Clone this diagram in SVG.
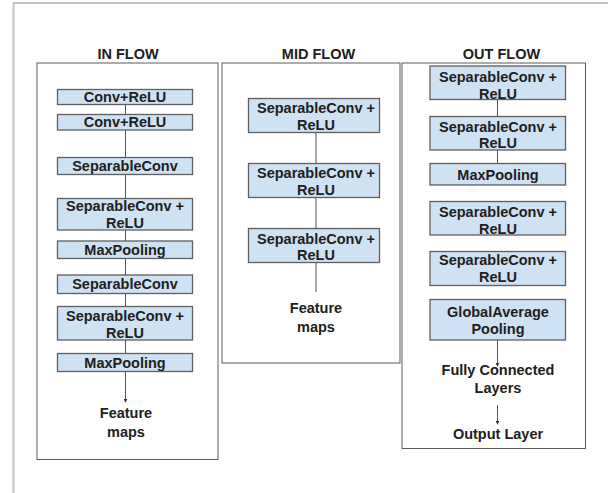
<svg xmlns="http://www.w3.org/2000/svg" width="608" height="493" viewBox="0 0 608 493">
<defs>
<style>
.frame{fill:none;stroke:#c4c4c4;stroke-width:2}
.panel{fill:#fff;stroke:#5a5a5a;stroke-width:1}
.box{fill:#cfe2f3;stroke:#5f5f5f;stroke-width:1.3}
.t{font-family:"Liberation Sans",Arial,sans-serif;font-weight:bold;font-size:14.5px;fill:#202020;text-anchor:middle}
.c{stroke:#555;stroke-width:1;fill:none}
</style>
<marker id="ah" viewBox="0 0 6 6" refX="5" refY="3" markerWidth="4" markerHeight="4" orient="auto" markerUnits="userSpaceOnUse">
<path d="M0,0 L6,3 L0,6 z" fill="#333"/>
</marker>
</defs>
<rect width="608" height="493" fill="#fff"/>
<path class="frame" d="M13.5,493 V3 H608"/>

<g id="panels">
<g id="in-flow"><rect class="panel" x="37" y="63" width="181" height="396.5"/><text class="t" x="128" y="59">IN FLOW</text></g>
<g id="mid-flow"><rect class="panel" x="222" y="63" width="178" height="300"/><text class="t" x="318.5" y="59">MID FLOW</text></g>
<g id="out-flow"><rect class="panel" x="402" y="63" width="183.5" height="385.5"/><text class="t" x="501.5" y="59">OUT FLOW</text></g>
</g>

<g id="connectors">
<line class="c" x1="125.5" y1="104.5" x2="125.5" y2="114.5"/>
<line class="c" x1="125.5" y1="130" x2="125.5" y2="157.5"/>
<line class="c" x1="125.5" y1="174.5" x2="125.5" y2="198.5"/>
<line class="c" x1="125.5" y1="230" x2="125.5" y2="241"/>
<line class="c" x1="125.5" y1="258.5" x2="125.5" y2="275"/>
<line class="c" x1="125.5" y1="293.5" x2="125.5" y2="306.5"/>
<line class="c" x1="125.5" y1="340" x2="125.5" y2="353.5"/>
<line class="c" x1="125.5" y1="371.5" x2="125.5" y2="402" marker-end="url(#ah)"/>
<line class="c" x1="316" y1="132.5" x2="316" y2="163.5"/>
<line class="c" x1="316" y1="197.5" x2="316" y2="228.5"/>
<line class="c" x1="316" y1="262.5" x2="316" y2="292"/>
<line class="c" x1="497.5" y1="99.5" x2="497.5" y2="116.5"/>
<line class="c" x1="497.5" y1="150" x2="497.5" y2="163.5"/>
<line class="c" x1="497.5" y1="340" x2="497.5" y2="366" marker-end="url(#ah)"/>
<line class="c" x1="497.5" y1="405" x2="497.5" y2="424" marker-end="url(#ah)"/>
</g>

<g id="in1"><rect class="box" x="57.5" y="89.5" width="135" height="15"/><text class="t" x="125" y="101.5">Conv+ReLU</text></g>
<g id="in2"><rect class="box" x="57.5" y="114.5" width="135" height="15.5"/><text class="t" x="125" y="127">Conv+ReLU</text></g>
<g id="in3"><rect class="box" x="57.5" y="157.5" width="135" height="17"/><text class="t" x="125" y="171">SeparableConv</text></g>
<g id="in4"><rect class="box" x="57.5" y="198.5" width="135" height="31.5"/><text class="t" x="125" y="211">SeparableConv +</text><text class="t" x="125" y="228">ReLU</text></g>
<g id="in5"><rect class="box" x="57.5" y="241" width="135" height="17.5"/><text class="t" x="125" y="254.5">MaxPooling</text></g>
<g id="in6"><rect class="box" x="57.5" y="275" width="135" height="18.5"/><text class="t" x="125" y="289">SeparableConv</text></g>
<g id="in7"><rect class="box" x="57.5" y="306.5" width="135" height="33.5"/><text class="t" x="125" y="320.5">SeparableConv +</text><text class="t" x="125" y="337.5">ReLU</text></g>
<g id="in8"><rect class="box" x="57.5" y="353.5" width="135" height="18"/><text class="t" x="125" y="367.5">MaxPooling</text></g>
<g id="in-out"><text class="t" x="126" y="418">Feature</text><text class="t" x="126" y="437">maps</text></g>

<g id="mid1"><rect class="box" x="248.5" y="98.5" width="131" height="34"/><text class="t" x="316" y="113">SeparableConv +</text><text class="t" x="316" y="129.5">ReLU</text></g>
<g id="mid2"><rect class="box" x="248.5" y="163.5" width="131" height="34"/><text class="t" x="316" y="178">SeparableConv +</text><text class="t" x="316" y="195">ReLU</text></g>
<g id="mid3"><rect class="box" x="248.5" y="228.5" width="131" height="34"/><text class="t" x="316" y="243.5">SeparableConv +</text><text class="t" x="316" y="260">ReLU</text></g>
<g id="mid-out"><text class="t" x="316" y="313">Feature</text><text class="t" x="316" y="332">maps</text></g>

<g id="out1"><rect class="box" x="430" y="66" width="135.5" height="33.5"/><text class="t" x="498" y="82">SeparableConv +</text><text class="t" x="498" y="98.5">ReLU</text></g>
<g id="out2"><rect class="box" x="430" y="116.5" width="135.5" height="33.5"/><text class="t" x="498" y="131.5">SeparableConv +</text><text class="t" x="498" y="148">ReLU</text></g>
<g id="out3"><rect class="box" x="430" y="163.5" width="135.5" height="21.5"/><text class="t" x="498" y="180">MaxPooling</text></g>
<g id="out4"><rect class="box" x="430" y="201.5" width="135.5" height="33.5"/><text class="t" x="498" y="217">SeparableConv +</text><text class="t" x="498" y="233.5">ReLU</text></g>
<g id="out5"><rect class="box" x="430" y="251.5" width="135.5" height="34"/><text class="t" x="498" y="265">SeparableConv +</text><text class="t" x="498" y="282">ReLU</text></g>
<g id="out6"><rect class="box" x="430" y="299.5" width="135.5" height="40.5"/><text class="t" x="498" y="317">GlobalAverage</text><text class="t" x="498" y="334">Pooling</text></g>
<g id="out7"><text class="t" x="498" y="374.5">Fully Connected</text><text class="t" x="498" y="392.5">Layers</text></g>
<g id="out8"><text class="t" x="498" y="439">Output Layer</text></g>
</svg>
